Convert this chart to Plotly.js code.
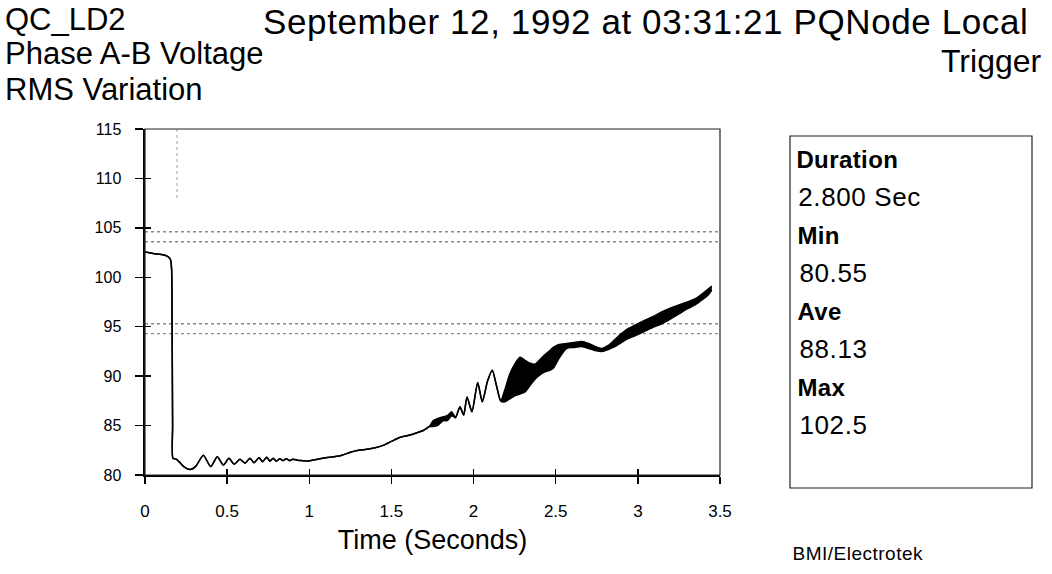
<!DOCTYPE html>
<html>
<head>
<meta charset="utf-8">
<script src="https://cdn.plot.ly/plotly-3.0.1.min.js"></script>
<style>
  html, body { margin: 0; padding: 0; background: #ffffff; }
  #chart { width: 1052px; height: 574px; }
</style>
</head>
<body>
<div id="chart"></div>
<script>
// ---- Data ----
// time (seconds) and the lower / upper envelope of the RMS trace (% of nominal)
const timeSec = [
  0.00, 0.05, 0.10, 0.14, 0.155, 0.162, 0.165, 0.168, 0.170, 0.19,
  0.21, 0.24, 0.275, 0.31, 0.355, 0.40, 0.44, 0.477, 0.511, 0.542,
  0.578, 0.609, 0.639, 0.663, 0.694, 0.716, 0.741, 0.76, 0.78, 0.80,
  0.82, 0.84, 0.86, 0.88, 0.90, 0.93, 0.96, 0.99, 1.05, 1.10,
  1.15, 1.20, 1.25, 1.30, 1.35, 1.40, 1.45, 1.50, 1.55, 1.60,
  1.633, 1.694, 1.73, 1.755, 1.78, 1.816, 1.84, 1.867, 1.89, 1.917,
  1.94, 1.96, 1.99, 2.025, 2.053, 2.085, 2.114, 2.14, 2.165, 2.19,
  2.22, 2.25, 2.283, 2.313, 2.345, 2.374, 2.394, 2.43, 2.465, 2.485,
  2.52, 2.567, 2.61, 2.658, 2.70, 2.74, 2.78, 2.82, 2.86, 2.90,
  2.94, 3.00, 3.05, 3.10, 3.145, 3.20, 3.25, 3.30, 3.348, 3.39,
  3.428, 3.45
];
const rmsLow = [
  102.55, 102.4, 102.3, 102.1, 101.8, 100.8, 95.0, 85.0, 81.7, 81.6,
  81.3, 80.8, 80.55, 80.9, 82.0, 80.85, 81.85, 81.0, 81.7, 81.1,
  81.6, 81.2, 81.7, 81.25, 81.75, 81.35, 81.8, 81.4, 81.7, 81.4,
  81.65, 81.45, 81.65, 81.45, 81.6, 81.5, 81.45, 81.4, 81.6, 81.75,
  81.85, 82.0, 82.3, 82.5, 82.6, 82.75, 83.0, 83.4, 83.8, 84.0,
  84.15, 84.5, 84.9, 84.9, 85.0, 85.5, 85.5, 86.0, 85.8, 86.9,
  86.06, 87.9, 86.4, 89.35, 87.4, 89.5, 90.6, 89.0, 87.5, 87.4,
  87.7, 88.0, 88.2, 88.4, 89.1, 89.7, 90.0, 90.4, 90.6, 90.8,
  91.8, 92.8, 92.9, 93.0, 92.8, 92.6, 92.5, 92.7, 93.0, 93.4,
  93.8, 94.2, 94.6, 95.0, 95.3, 95.8, 96.3, 96.8, 97.2, 97.7,
  98.2, 98.7
];
const rmsHigh = [
  102.55, 102.4, 102.3, 102.1, 101.8, 100.8, 95.0, 85.0, 81.7, 81.6,
  81.3, 80.8, 80.55, 80.9, 82.0, 80.85, 81.85, 81.0, 81.7, 81.1,
  81.6, 81.2, 81.7, 81.25, 81.75, 81.35, 81.8, 81.4, 81.7, 81.4,
  81.65, 81.45, 81.65, 81.45, 81.6, 81.5, 81.45, 81.4, 81.6, 81.75,
  81.85, 82.0, 82.3, 82.5, 82.6, 82.75, 83.0, 83.4, 83.8, 84.0,
  84.15, 84.5, 84.9, 85.5, 85.7, 85.9, 86.0, 86.4, 85.8, 86.9,
  86.06, 87.9, 86.4, 89.35, 87.4, 89.5, 90.6, 89.0, 87.5, 88.6,
  90.2, 91.2, 91.9, 91.6, 91.3, 91.2, 91.5, 92.1, 92.6, 92.9,
  93.2, 93.3, 93.4, 93.5, 93.3, 93.0, 92.8, 93.1, 93.7, 94.3,
  94.8, 95.3, 95.7, 96.1, 96.5, 96.9, 97.2, 97.5, 97.8, 98.3,
  98.8, 99.1
];
// dotted limit lines (% of nominal)
const limitLevels = [104.6, 103.6, 95.3, 94.3];
// faint trigger marker near the top of the plot
const triggerT = [0.195, 0.195];
const triggerY = [115, 108];

// axis ticks
const xTicks = [0, 0.5, 1, 1.5, 2, 2.5, 3, 3.5];
const xTickText = ["0", "0.5", "1", "1.5", "2", "2.5", "3", "3.5"];
const yTicks = [80, 85, 90, 95, 100, 105, 110, 115];
const yTickText = ["80", "85", "90", "95", "100", "105", "110", "115"];

// texts
const titleLines = ["QC_LD2", "Phase A-B Voltage", "RMS Variation"];
const dateLine = "September 12, 1992 at 03:31:21 PQNode Local";
const triggerWord = "Trigger";
const statLabels = ["Duration", "Min", "Ave", "Max"];
const statValues = ["2.800 Sec", "80.55", "88.13", "102.5"];
const creditText = "BMI/Electrotek";
const xTitle = "Time (Seconds)";

// ---- Layout geometry (pixels of the 1052x574 page) ----
const W = 1052, H = 574;
const L = 145, R = 720, T = 129, B = 475;
const px = x => (x - L) / (R - L);
const py = y => (B - y) / (B - T);
const FONT = "Liberation Sans, Arial, sans-serif";

const traces = [];
limitLevels.forEach(v => {
  traces.push({
    x: [xTicks[0], xTicks[xTicks.length - 1]], y: [v, v],
    mode: "lines", line: {color: "#8a8a8a", width: 1.4, dash: "dot"},
    hoverinfo: "skip", showlegend: false
  });
});
traces.push({
  x: triggerT, y: triggerY, mode: "lines",
  line: {color: "#b0b0b0", width: 1.2, dash: "dot"},
  hoverinfo: "skip", showlegend: false
});
traces.push({
  x: timeSec, y: rmsLow, mode: "lines",
  line: {color: "#000000", width: 1.5, shape: "spline", smoothing: 0.6},
  showlegend: false, name: "min"
});
traces.push({
  x: timeSec, y: rmsHigh, mode: "lines", fill: "tonexty",
  fillcolor: "#000000",
  line: {color: "#000000", width: 1.5, shape: "spline", smoothing: 0.6},
  showlegend: false, name: "max"
});
// overlay axes for the inward half of the crossing ticks
traces.push({x: [0], y: [80], xaxis: "x2", yaxis: "y2", mode: "markers",
  marker: {opacity: 0}, hoverinfo: "skip", showlegend: false});

const annotations = [];
const spacing = [];   // letter spacing (px) for each annotation, scanned text is wide
const titleY = [19, 54, 89];
titleLines.forEach((t, i) => {
  annotations.push({
    text: t, xref: "paper", yref: "paper", x: px(3), y: py(titleY[i]),
    xanchor: "left", yanchor: "middle", showarrow: false,
    font: {family: FONT, size: 31, color: "#000"}
  });
  spacing.push(0);
});
annotations.push({
  text: dateLine, xref: "paper", yref: "paper", x: px(274), y: py(22),
  xanchor: "left", yanchor: "middle", showarrow: false,
  font: {family: FONT, size: 35, color: "#000"}
});
spacing.push(0.6);
annotations.push({
  text: triggerWord, xref: "paper", yref: "paper", x: px(1044), y: py(61),
  xanchor: "right", yanchor: "middle", showarrow: false,
  font: {family: FONT, size: 32, color: "#000"}
});
spacing.push(0);
const statY0 = 159, statStep = 38;
statLabels.forEach((s, i) => {
  annotations.push({
    text: "<b>" + s + "</b>", xref: "paper", yref: "paper",
    x: px(796), y: py(statY0 + statStep * 2 * i),
    xanchor: "left", yanchor: "middle", showarrow: false,
    font: {family: FONT, size: 24, color: "#000"}
  });
  spacing.push(0.4);
  annotations.push({
    text: statValues[i], xref: "paper", yref: "paper",
    x: px(799), y: py(statY0 + statStep * (2 * i + 1)),
    xanchor: "left", yanchor: "middle", showarrow: false,
    font: {family: FONT, size: 26, color: "#000"}
  });
  spacing.push(0.6);
});
annotations.push({
  text: creditText, xref: "paper", yref: "paper", x: px(794), y: py(553),
  xanchor: "left", yanchor: "middle", showarrow: false,
  font: {family: FONT, size: 19, color: "#000"}
});
spacing.push(0.5);

const layout = {
  width: W, height: H,
  margin: {l: L, r: W - R, t: T, b: H - B, pad: 0},
  paper_bgcolor: "#ffffff", plot_bgcolor: "#ffffff",
  showlegend: false,
  xaxis: {
    range: [0, 3.5], tickvals: xTicks, ticktext: xTickText,
    showgrid: false, zeroline: false, showline: true,
    linecolor: "#000", linewidth: 2,
    ticks: "outside", ticklen: 7, tickwidth: 1.5, tickcolor: "#000",
    ticklabelstandoff: 13,
    tickfont: {family: FONT, size: 17, color: "#000"},
    title: {text: xTitle, standoff: 10, font: {family: FONT, size: 27, color: "#000"}},
    fixedrange: true
  },
  yaxis: {
    range: [80, 115], tickvals: yTicks, ticktext: yTickText,
    showgrid: false, zeroline: false, showline: true,
    linecolor: "#000", linewidth: 2.5,
    ticks: "outside", ticklen: 8, tickwidth: 1.5, tickcolor: "#000",
    ticklabelstandoff: 10,
    tickfont: {family: FONT, size: 16, color: "#000"},
    fixedrange: true
  },
  xaxis2: {
    overlaying: "x", matches: "x", range: [0, 3.5], tickvals: xTicks,
    showticklabels: false, showgrid: false, zeroline: false, showline: false,
    ticks: "inside", ticklen: 6, tickwidth: 1.5, tickcolor: "#000", fixedrange: true
  },
  yaxis2: {
    overlaying: "y", matches: "y", range: [80, 115], tickvals: yTicks,
    showticklabels: false, showgrid: false, zeroline: false, showline: false,
    ticks: "inside", ticklen: 6, tickwidth: 1.5, tickcolor: "#000", fixedrange: true
  },
  shapes: [
    {type: "rect", xref: "paper", yref: "paper", x0: 0, x1: 1, y0: 0, y1: 1,
     line: {color: "#222", width: 1.2}},
    {type: "rect", xref: "paper", yref: "paper",
     x0: px(790), x1: px(1032), y0: py(488), y1: py(136),
     line: {color: "#222", width: 1.2}}
  ],
  annotations: annotations
};

Plotly.newPlot("chart", traces, layout, {displayModeBar: false, staticPlot: true})
  .then(gd => {
    // the scanned original has slightly widened lettering
    gd.querySelectorAll(".annotation-text").forEach((el, i) => {
      if (spacing[i]) el.style.letterSpacing = spacing[i] + "px";
    });
  });
</script>
</body>
</html>
